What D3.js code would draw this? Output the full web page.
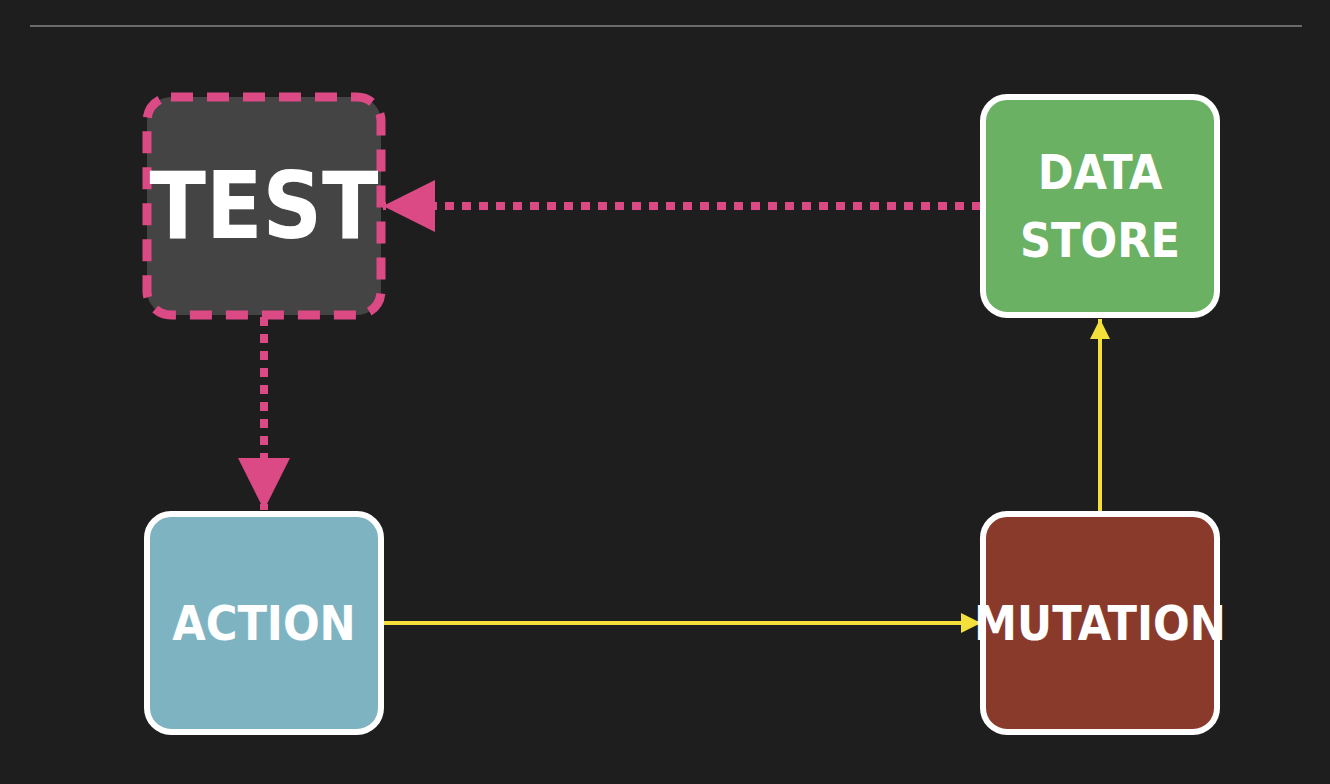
<!DOCTYPE html>
<html><head><meta charset="utf-8">
<script src="https://cdn.jsdelivr.net/npm/d3@7"></script>
<style>body{margin:0;background:#1e1e1e}</style></head>
<body><svg id="c" width="1330" height="784"></svg>
<script>
const nodeNames = ["TEST","DATA STORE","ACTION","MUTATION"];
const nodeCol = [0,1,0,1];
const nodeRow = [0,0,1,1];
const nodeFill = ["#444444","#6ab164","#7eb4c2","#8a3a2b"];
const nodeDashed = [true,false,false,false];
const linkFrom = ["DATA STORE","TEST","ACTION","MUTATION"];
const linkTo = ["TEST","ACTION","MUTATION","DATA STORE"];
const linkKind = ["test","test","flow","flow"];

const svg = d3.select("#c");
const x = d3.scaleLinear().domain([0,1]).range([264,1100]);
const y = d3.scaleLinear().domain([0,1]).range([206,623]);
const W = 234, H = 218;

svg.append("line").attr("x1",30).attr("x2",1302).attr("y1",26).attr("y2",26)
  .attr("stroke","#6a6a6a").attr("stroke-width",2);

const defs = svg.append("defs");
defs.append("marker").attr("id","mp").attr("viewBox","0 0 10 10").attr("refX",10).attr("refY",5)
  .attr("markerWidth",7).attr("markerHeight",6.5).attr("markerUnits","strokeWidth").attr("orient","auto")
  .append("path").attr("d","M0,0L10,5L0,10Z").attr("fill","#dc4a86");
defs.append("marker").attr("id","my").attr("viewBox","0 0 10 10").attr("refX",10).attr("refY",5)
  .attr("markerWidth",6).attr("markerHeight",5).attr("markerUnits","strokeWidth").attr("orient","auto")
  .append("path").attr("d","M0,0L10,5L0,10Z").attr("fill","#f3e03b");

const pos = n => { const i = nodeNames.indexOf(n); return [x(nodeCol[i]), y(nodeRow[i])]; };
linkFrom.forEach((f,i)=>{
  const [x1,y1]=pos(f),[x2,y2]=pos(linkTo[i]);
  const dx=Math.sign(x2-x1), dy=Math.sign(y2-y1);
  const s=[x1+dx*(W/2+2), y1+dy*(H/2+2)], e=[x2-dx*(W/2+2), y2-dy*(H/2+4)];
  const t = linkKind[i]==="test";
  svg.append("line").attr("x1",s[0]).attr("y1",s[1]).attr("x2",e[0]).attr("y2",e[1])
    .attr("stroke",t?"#dc4a86":"#f3e03b").attr("stroke-width",t?8:4)
    .attr("stroke-dasharray",t?"9,8":null).attr("marker-end",t?"url(#mp)":"url(#my)");
});

nodeNames.forEach((n,i)=>{
  const cx=x(nodeCol[i]), cy=y(nodeRow[i]);
  svg.append("rect").attr("x",cx-W/2).attr("y",cy-H/2).attr("width",W).attr("height",H)
    .attr("rx",24).attr("fill",nodeFill[i])
    .attr("stroke",nodeDashed[i]?"#dc4a86":"#ffffff").attr("stroke-width",nodeDashed[i]?9:6)
    .attr("stroke-dasharray",nodeDashed[i]?"22,14":null);
  const lines = n.split(" ");
  const fs = nodeDashed[i]?92:48;
  lines.forEach((l,j)=>{
    svg.append("text").attr("x",cx).attr("y",cy+(j-(lines.length-1)/2)*68)
      .attr("text-anchor","middle").attr("dominant-baseline","central")
      .attr("font-family","'Liberation Sans Narrow','DejaVu Sans Condensed',sans-serif")
      .attr("font-weight","bold").attr("font-size",fs).attr("fill","#ffffff").text(l);
  });
});
</script></body></html>
